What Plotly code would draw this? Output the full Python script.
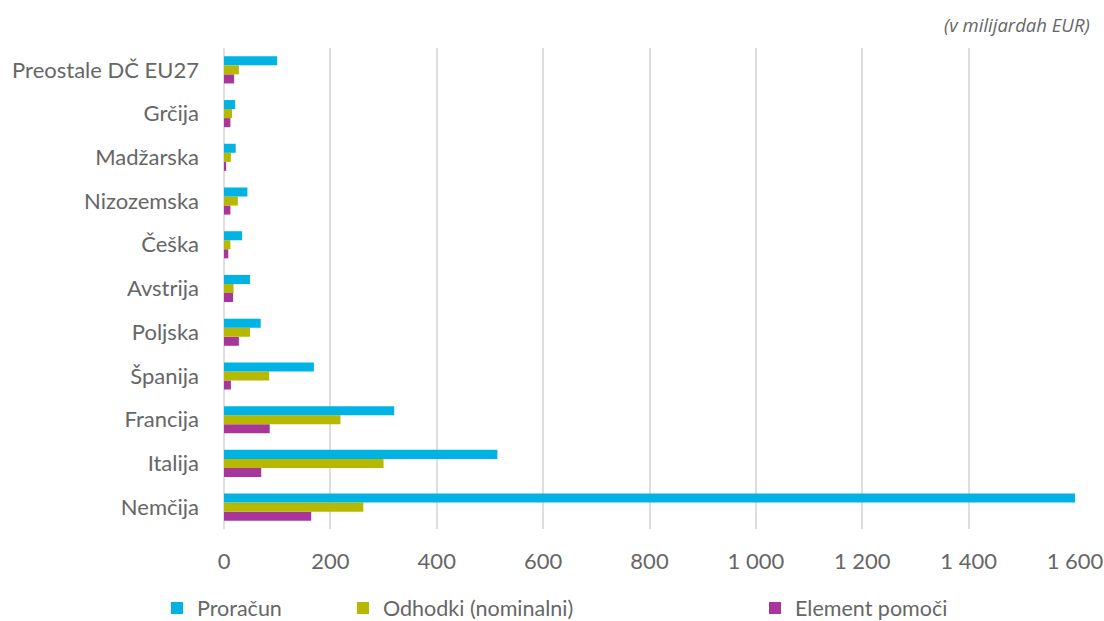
import plotly.graph_objects as go

categories = ["Nemčija", "Italija", "Francija", "Španija", "Poljska", "Avstrija",
              "Češka", "Nizozemska", "Madžarska", "Grčija", "Preostale DČ EU27"]
proracun = [1602, 514, 320, 169, 69, 49, 34, 44, 22, 21, 100]
odhodki = [262, 300, 219, 85, 49, 18, 12, 26, 13, 15, 28]
element = [164, 70, 86, 13, 28, 17, 8, 12, 4, 12, 19]
xticks = [0, 200, 400, 600, 800, 1000, 1200, 1400, 1600]

FONT = "Lato"
GRAY = "#666666"

fig = go.Figure()
fig.add_trace(go.Bar(y=categories, x=element, orientation="h", name="Element pomoči",
                     marker=dict(color="#a8359a", line=dict(width=0)), legend="legend3",
                     showlegend=True))
fig.add_trace(go.Bar(y=categories, x=odhodki, orientation="h", name="Odhodki (nominalni)",
                     marker=dict(color="#b7b800", line=dict(width=0)), legend="legend2",
                     showlegend=True))
fig.add_trace(go.Bar(y=categories, x=proracun, orientation="h", name="Proračun",
                     marker=dict(color="#00b3e3", line=dict(width=0)), legend="legend",
                     showlegend=True))

legend_common = dict(orientation="h", yanchor="middle", xanchor="left",
                     xref="container", yref="container", y=1 - 608 / 621,
                     font=dict(family=FONT, size=21.5, color=GRAY),
                     bgcolor="rgba(0,0,0,0)", itemwidth=30)
fig.update_layout(
    width=1104, height=621,
    showlegend=True,
    barmode="group", bargap=0.38, bargroupgap=0,
    plot_bgcolor="white", paper_bgcolor="white",
    margin=dict(l=224, r=29, t=48, b=92, autoexpand=False),
    separators=", ",
    font=dict(family=FONT, size=22, color=GRAY),
    xaxis=dict(range=[0, 1600], tickvals=xticks, tickformat=",d", automargin=False,
               showgrid=True, gridcolor="#dedede", gridwidth=1.5,
               zeroline=True, zerolinecolor="#dedede", zerolinewidth=1.5,
               showline=False, ticks="", ticklabelstandoff=17,
               tickfont=dict(family=FONT, size=22, color=GRAY)),
    yaxis=dict(categoryorder="array", categoryarray=categories, showgrid=False,
               automargin=False,
               showline=False, ticks="", ticklabelstandoff=24,
               tickfont=dict(family=FONT, size=22, color=GRAY)),
    legend=dict(x=(197 - 40) / 1104, **legend_common),
    legend2=dict(x=(383 - 40) / 1104, **legend_common),
    legend3=dict(x=(795 - 40) / 1104, **legend_common),
    annotations=[dict(text="<i>(v milijardah EUR)</i>", xref="paper", yref="paper",
                      x=(1092 - 224) / 851, xanchor="right",
                      y=(529 - 25) / 481, yanchor="middle",
                      showarrow=False,
                      font=dict(family="Open Sans", size=18.5, color=GRAY))],
)
fig.write_html("out.html")
